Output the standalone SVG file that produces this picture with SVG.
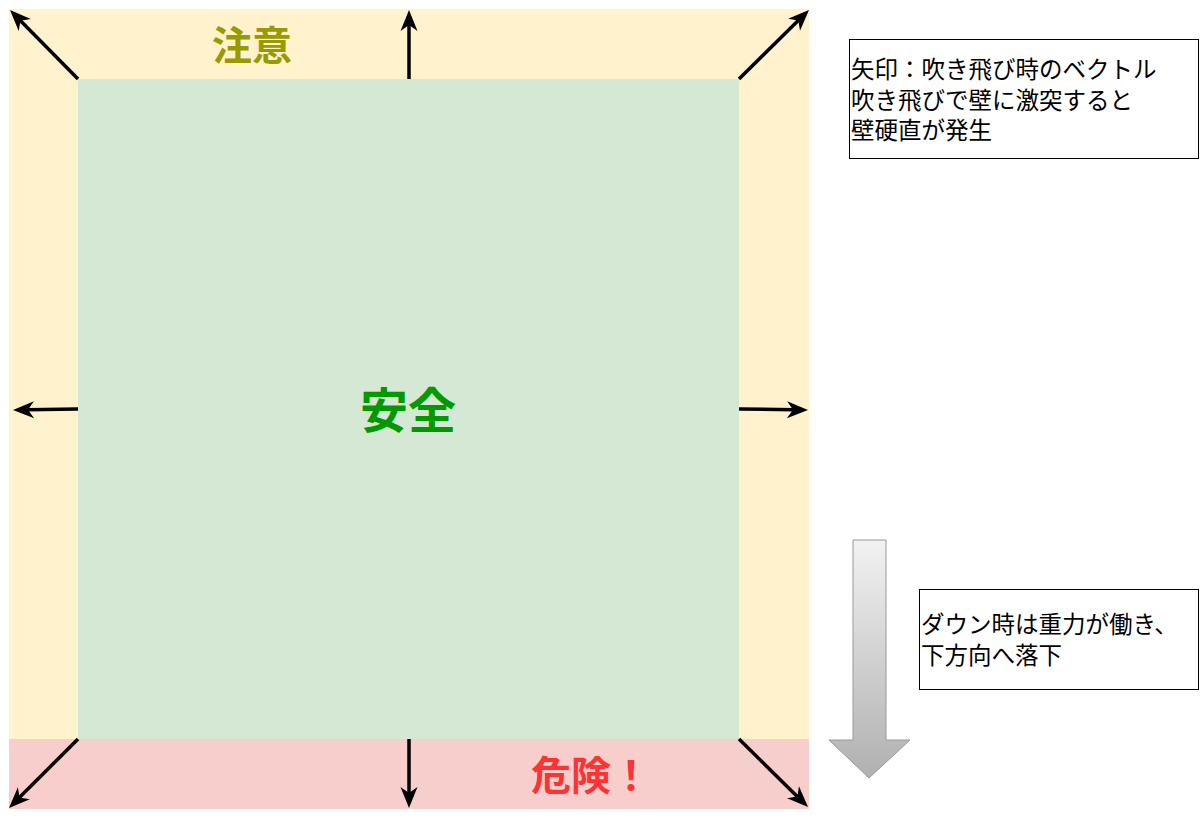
<svg xmlns="http://www.w3.org/2000/svg" width="1200" height="819" viewBox="0 0 1200 819">
<style>
.zone-label{font-family:"Noto Sans CJK JP","Noto Sans",sans-serif;font-weight:bold;text-anchor:middle}
.note{font-family:"Noto Sans CJK JP","Noto Sans",sans-serif;font-size:23.5px;fill:#000}
.note-box{fill:#fff;stroke:#000;stroke-width:1}
.vec{stroke:#000;stroke-width:3.5;fill:none}
.head{fill:#000}
</style>
<defs>
<path id="ah" d="M0,0 L-21,-8.5 L-15,0 L-21,8.5 Z"/>
<linearGradient id="gr" x1="0" y1="0" x2="0" y2="1">
<stop offset="0" stop-color="#f2f2f2"/>
<stop offset="1" stop-color="#b0b0b0"/>
</linearGradient>
</defs>
<rect width="1200" height="819" fill="#fff"/>
<g id="caution-zone">
<rect x="9" y="9" width="800" height="730" fill="#fff2cc"/>
<text class="zone-label" x="252" y="60" font-size="40" fill="#999900">注意</text>
</g>
<g id="danger-zone">
<rect x="9" y="739" width="800" height="70" fill="#f8cecc"/>
<text class="zone-label" x="591" y="790" font-size="40" fill="#ff3333">危険！</text>
</g>
<g id="safe-zone">
<rect x="78" y="79" width="661" height="660" fill="#d5e8d4"/>
<text class="zone-label" x="408" y="428" font-size="48" fill="#009900">安全</text>
</g>
<g id="connectors">
<line class="vec" x1="78" y1="79" x2="19.8" y2="20"/>
<use class="head" href="#ah" transform="translate(10,10) rotate(-134.6)"/>
<line class="vec" x1="409" y1="79" x2="409" y2="24"/>
<use class="head" href="#ah" transform="translate(409,10) rotate(-90)"/>
<line class="vec" x1="739" y1="79" x2="799" y2="19.8"/>
<use class="head" href="#ah" transform="translate(809,10) rotate(-44.6)"/>
<line class="vec" x1="78" y1="409" x2="27" y2="409.8"/>
<use class="head" href="#ah" transform="translate(13,410) rotate(179.1)"/>
<line class="vec" x1="739" y1="409" x2="794" y2="409.8"/>
<use class="head" href="#ah" transform="translate(808,410) rotate(0.8)"/>
<line class="vec" x1="78" y1="739" x2="18.9" y2="798.1"/>
<use class="head" href="#ah" transform="translate(9,808) rotate(135)"/>
<line class="vec" x1="409" y1="739" x2="409" y2="794"/>
<use class="head" href="#ah" transform="translate(409,808) rotate(90)"/>
<line class="vec" x1="739" y1="739" x2="798" y2="797.2"/>
<use class="head" href="#ah" transform="translate(808,807) rotate(44.6)"/>
</g>
<g id="note-vector">
<rect class="note-box" x="849.5" y="39.5" width="349" height="119"/>
<text class="note"><tspan x="851" y="78">矢印：吹き飛び時のベクトル</tspan><tspan x="851" y="109">吹き飛びで壁に激突すると</tspan><tspan x="851" y="139">壁硬直が発生</tspan></text>
</g>
<g id="gravity-arrow">
<path d="M853,540 L886,540 L886,740 L910,740 L869,778 L829,740 L853,740 Z" fill="url(#gr)" stroke="#999" stroke-width="1"/>
</g>
<g id="note-gravity">
<rect class="note-box" x="919.5" y="589.5" width="279" height="100"/>
<text class="note"><tspan x="921" y="633">ダウン時は重力が働き、</tspan><tspan x="921" y="664">下方向へ落下</tspan></text>
</g>
</svg>
